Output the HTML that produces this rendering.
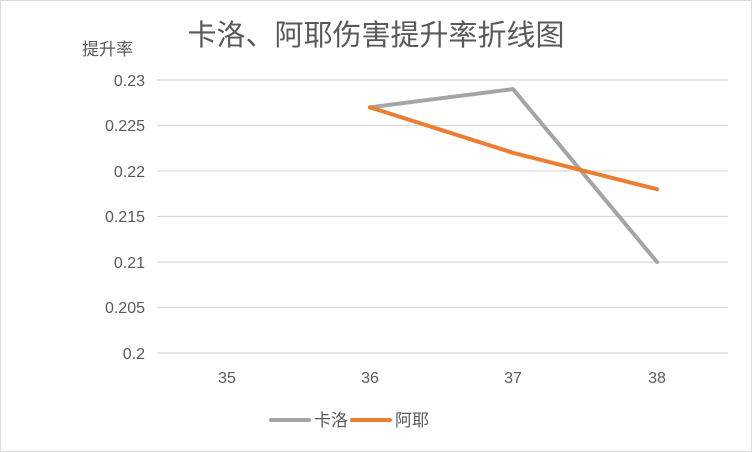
<!DOCTYPE html>
<html><head><meta charset="utf-8"><style>
html,body{margin:0;padding:0;background:#fff;}
svg{display:block;}
</style></head><body>
<svg width="752" height="452" xmlns="http://www.w3.org/2000/svg" font-family="'Liberation Sans','Noto Sans CJK SC',sans-serif">
<rect x="0.5" y="0.5" width="751" height="451" fill="#fff" stroke="#d9d9d9"/>
<text x="376" y="45" font-size="29" fill="#595959" text-anchor="middle">卡洛、阿耶伤害提升率折线图</text>
<text x="82" y="55" font-size="17" fill="#595959">提升率</text>
<g stroke="#d9d9d9" stroke-width="1.3">
<line x1="157" y1="80" x2="728" y2="80"/>
<line x1="157" y1="125.5" x2="728" y2="125.5"/>
<line x1="157" y1="171" x2="728" y2="171"/>
<line x1="157" y1="216.5" x2="728" y2="216.5"/>
<line x1="157" y1="262" x2="728" y2="262"/>
<line x1="157" y1="307.5" x2="728" y2="307.5"/>
<line x1="157" y1="353" x2="728" y2="353"/>
</g>
<g font-size="16" fill="#595959" text-anchor="end">
<text x="145" y="86">0.23</text>
<text x="145" y="131">0.225</text>
<text x="145" y="177">0.22</text>
<text x="145" y="222">0.215</text>
<text x="145" y="268">0.21</text>
<text x="145" y="313">0.205</text>
<text x="145" y="359">0.2</text>
</g>
<g font-size="16" fill="#595959" text-anchor="middle">
<text x="227" y="383">35</text>
<text x="370" y="383">36</text>
<text x="513" y="383">37</text>
<text x="657" y="383">38</text>
</g>
<polyline points="370,107.3 513,89.1 657,262" fill="none" stroke="#a5a5a5" stroke-width="4" stroke-linejoin="round" stroke-linecap="round"/>
<polyline points="370,107.3 513,152.8 657,189.2" fill="none" stroke="#ed7d31" stroke-width="4" stroke-linejoin="round" stroke-linecap="round"/>
<line x1="271" y1="420" x2="309" y2="420" stroke="#a5a5a5" stroke-width="4" stroke-linecap="round"/>
<text x="314" y="426" font-size="17" fill="#595959">卡洛</text>
<line x1="352" y1="420" x2="390" y2="420" stroke="#ed7d31" stroke-width="4" stroke-linecap="round"/>
<text x="395" y="426" font-size="17" fill="#595959">阿耶</text>
</svg>
</body></html>
